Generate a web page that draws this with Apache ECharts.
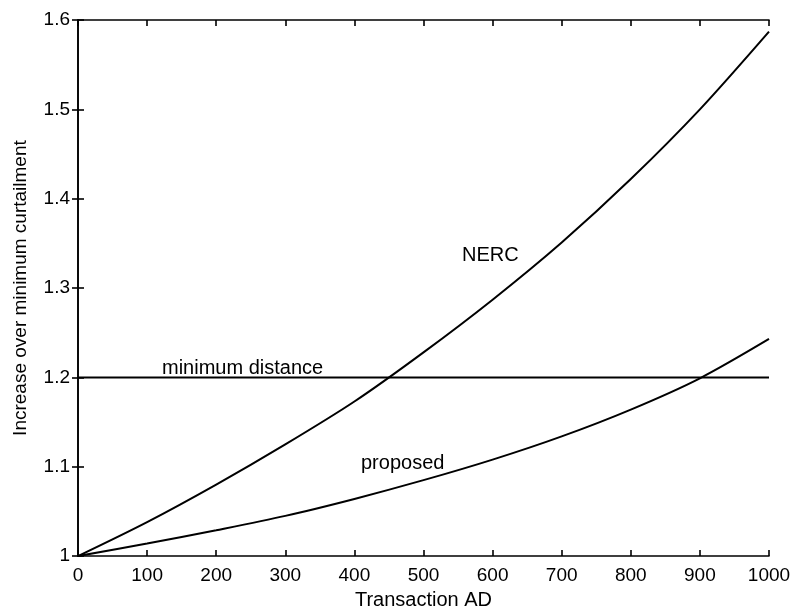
<!DOCTYPE html>
<html>
<head>
<meta charset="utf-8">
<script src="https://cdn.jsdelivr.net/npm/echarts@6/dist/echarts.min.js"></script>
<style>
  html, body { margin: 0; padding: 0; background: #fff; }
  #chart { width: 800px; height: 615px; }
</style>
</head>
<body>
<div id="chart"></div>
<script>
// values
const transactionAD = [0, 100, 200, 300, 400, 500, 600, 700, 800, 900, 1000];
const nercValues = [1.0, 1.038, 1.080, 1.125, 1.173, 1.228, 1.287, 1.351, 1.422, 1.500, 1.587];
const proposedValues = [1.0, 1.014, 1.029, 1.045, 1.064, 1.085, 1.108, 1.134, 1.164, 1.199, 1.243];
const minDistanceLevel = 1.2;
const xTicks = [0, 100, 200, 300, 400, 500, 600, 700, 800, 900, 1000];
const yTicks = [1, 1.1, 1.2, 1.3, 1.4, 1.5, 1.6];

const FONT = 'Liberation Sans, Arial, sans-serif';
const toPairs = (xs, ys) => xs.map((x, i) => [x, ys[i]]);

const chart = echarts.init(document.getElementById('chart'));

const axisLine = {lineStyle: {color: '#000', width: 1.6}};
const axisTick = {inside: true, length: 6, lineStyle: {color: '#000', width: 1.6}};

chart.setOption({
    animation: false,
    backgroundColor: '#fff',
    grid: {left: 78, right: 31, top: 20, bottom: 54},
    xAxis: [
        {
            type: 'value', min: 0, max: 1000, interval: 100,
            name: 'Transaction AD', nameLocation: 'middle', nameGap: 20,
            nameTextStyle: {color: '#000', fontFamily: FONT, fontSize: 20},
            axisLine: axisLine, axisTick: axisTick, splitLine: {show: false},
            axisLabel: {color: '#000', fontFamily: FONT, fontSize: 19, margin: 10,
                formatter: v => xTicks.includes(v) ? String(v) : ''}
        },
        {
            type: 'value', min: 0, max: 1000, interval: 100, position: 'top',
            axisLine: axisLine, axisTick: axisTick, axisLabel: {show: false}, splitLine: {show: false}
        }
    ],
    yAxis: [
        {
            type: 'value', min: 1, max: 1.6, interval: 0.1,
            name: 'Increase over minimum curtailment', nameLocation: 'middle', nameGap: 48,
            nameTextStyle: {color: '#000', fontFamily: FONT, fontSize: 19},
            axisLine: axisLine, axisTick: axisTick, splitLine: {show: false},
            axisLabel: {color: '#000', fontFamily: FONT, fontSize: 19, margin: 8,
                formatter: v => {
                    const t = yTicks.find(y => Math.abs(y - v) < 1e-6);
                    return t === undefined ? '' : String(t);
                }}
        },
        {
            type: 'value', min: 1, max: 1.6, interval: 0.1, position: 'right',
            axisLine: axisLine, axisTick: axisTick, axisLabel: {show: false}, splitLine: {show: false}
        }
    ],
    series: [
        {
            name: 'NERC', type: 'line', smooth: 0.3, symbol: 'none',
            lineStyle: {color: '#000', width: 2},
            data: toPairs(transactionAD, nercValues)
        },
        {
            name: 'proposed', type: 'line', smooth: 0.3, symbol: 'none',
            lineStyle: {color: '#000', width: 2},
            data: toPairs(transactionAD, proposedValues)
        },
        {
            name: 'minimum distance', type: 'line', symbol: 'none',
            lineStyle: {color: '#000', width: 2},
            data: [[0, minDistanceLevel], [1000, minDistanceLevel]]
        }
    ],
    graphic: [
        {type: 'text', style: {text: 'NERC', x: 462, y: 255, font: '20px ' + FONT, fill: '#000', textVerticalAlign: 'middle'}},
        {type: 'text', style: {text: 'minimum distance', x: 162, y: 368, font: '20px ' + FONT, fill: '#000', textVerticalAlign: 'middle'}},
        {type: 'text', style: {text: 'proposed', x: 361, y: 463, font: '20px ' + FONT, fill: '#000', textVerticalAlign: 'middle'}}
    ]
});
</script>
</body>
</html>
